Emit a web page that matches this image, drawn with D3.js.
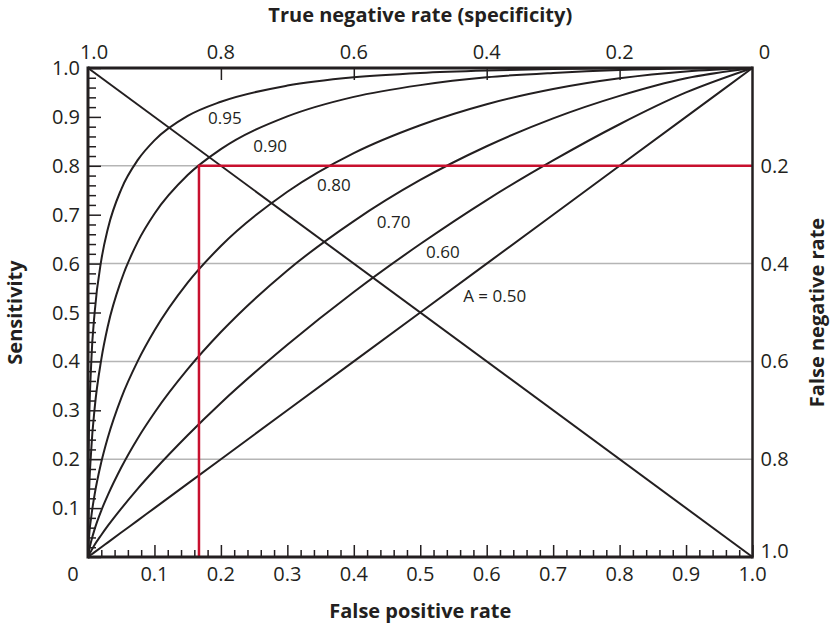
<!DOCTYPE html>
<html>
<head>
<meta charset="utf-8">
<script src="https://cdn.jsdelivr.net/npm/d3@7"></script>
<style>
  body { margin: 0; background: #fff; }
  text { font-family: "Open Sans", "Noto Sans", sans-serif; fill: #231f20; }
</style>
</head>
<body>
<div id="chart"></div>
<script>
// False positive rate sampled along each ROC curve
const fpr = [0, 0.001, 0.005, 0.01, 0.02, 0.03, 0.05, 0.075, 0.1, 0.15, 0.2, 0.3, 0.4, 0.5, 0.6, 0.7, 0.8, 0.9, 1.0];

// Sensitivity at those rates
const sens95 = [0, 0.222, 0.401, 0.500, 0.607, 0.672, 0.752, 0.812, 0.852, 0.902, 0.931, 0.964, 0.981, 0.990, 0.995, 0.998, 0.999, 1.0, 1.0];
const sens90 = [0, 0.101, 0.222, 0.304, 0.404, 0.473, 0.566, 0.645, 0.702, 0.781, 0.834, 0.901, 0.941, 0.965, 0.981, 0.990, 0.996, 0.999, 1.0];
const sens80 = [0, 0.029, 0.083, 0.128, 0.194, 0.245, 0.325, 0.401, 0.463, 0.561, 0.636, 0.747, 0.826, 0.883, 0.926, 0.957, 0.979, 0.993, 1.0];
const sens70 = [0, 0.009, 0.033, 0.057, 0.095, 0.127, 0.183, 0.243, 0.295, 0.384, 0.460, 0.586, 0.687, 0.771, 0.840, 0.897, 0.943, 0.979, 1.0];
const sens60 = [0, 0.003, 0.013, 0.025, 0.045, 0.064, 0.099, 0.140, 0.178, 0.249, 0.315, 0.434, 0.542, 0.640, 0.730, 0.811, 0.885, 0.950, 1.0];
const sens50 = [0, 0.001, 0.005, 0.010, 0.020, 0.030, 0.050, 0.075, 0.100, 0.150, 0.200, 0.300, 0.400, 0.500, 0.600, 0.700, 0.800, 0.900, 1.0];

const curveNames = ["0.95", "0.90", "0.80", "0.70", "0.60", "A = 0.50"];
const curveSeries = [sens95, sens90, sens80, sens70, sens60, sens50];

// Operating point marked in red
const cutFpr = 0.167;
const cutSens = 0.8;

// Tick values
const bottomTicks = [0.1, 0.2, 0.3, 0.4, 0.5, 0.6, 0.7, 0.8, 0.9, 1.0];
const leftTicks = [0.1, 0.2, 0.3, 0.4, 0.5, 0.6, 0.7, 0.8, 0.9, 1.0];
const topTicks = [0.8, 0.6, 0.4, 0.2];
const topLabels = ["1.0", "0.8", "0.6", "0.4", "0.2", "0"];
const rightLabels = ["0.2", "0.4", "0.6", "0.8", "1.0"];
const gridSens = [0.2, 0.4, 0.6, 0.8];

document.addEventListener("DOMContentLoaded", () => {
    const svgWidth = 831;
    const svgHeight = 623;

    const svg = d3.select("#chart")
        .append("svg")
        .attr("width", svgWidth)
        .attr("height", svgHeight);

    const margins = { top: 68, right: 78.5, bottom: 66, left: 88 };
    const chartWidth = svgWidth - margins.left - margins.right;
    const chartHeight = svgHeight - margins.top - margins.bottom;

    const x = d3.scaleLinear().domain([0, 1]).range([0, chartWidth]);
    const y = d3.scaleLinear().domain([0, 1]).range([chartHeight, 0]);
    // specificity = 1 - FPR, false negative rate = 1 - sensitivity
    const xTop = d3.scaleLinear().domain([1, 0]).range([0, chartWidth]);
    const yRight = d3.scaleLinear().domain([0, 1]).range([0, chartHeight]);

    const g = svg.append("g")
        .attr("transform", `translate(${margins.left},${margins.top})`);

    g.append("clipPath").attr("id", "plot-clip")
        .append("rect").attr("width", chartWidth).attr("height", chartHeight);

    // Gray gridlines
    g.selectAll(".grid")
        .data(gridSens)
        .enter()
        .append("line")
        .attr("x1", 0).attr("x2", chartWidth)
        .attr("y1", d => y(d)).attr("y2", d => y(d))
        .attr("stroke", "#b5b5b5")
        .attr("stroke-width", 1.5);

    // ROC curves
    const line = d3.line()
        .x(d => x(d[0]))
        .y(d => y(d[1]))
        .curve(d3.curveMonotoneX);

    g.append("g").attr("clip-path", "url(#plot-clip)")
        .selectAll(".roc")
        .data(curveSeries)
        .enter()
        .append("path")
        .attr("class", "roc")
        .attr("d", s => line(fpr.map((f, i) => [f, s[i]])))
        .attr("fill", "none")
        .attr("stroke", "#231f20")
        .attr("stroke-width", 2);

    // Anti-diagonal
    g.append("line")
        .attr("x1", x(0)).attr("y1", y(1))
        .attr("x2", x(1)).attr("y2", y(0))
        .attr("stroke", "#231f20")
        .attr("stroke-width", 2);

    // Red operating point lines
    g.append("path")
        .attr("d", `M${x(cutFpr)},${y(0)}V${y(cutSens)}H${x(1)}`)
        .attr("fill", "none")
        .attr("stroke", "#c8102e")
        .attr("stroke-width", 2.5);

    // Curve labels
    const labelPos = [[0.206, 0.898], [0.274, 0.841], [0.370, 0.760], [0.460, 0.685], [0.534, 0.624], [0.612, 0.534]];
    g.selectAll(".clabel")
        .data(curveNames)
        .enter()
        .append("text")
        .attr("x", (d, i) => x(labelPos[i][0]))
        .attr("y", (d, i) => y(labelPos[i][1]))
        .attr("dy", "0.35em")
        .attr("text-anchor", "middle")
        .style("font-size", "17px")
        .text(d => d);

    // Bottom axis: major ticks every 0.1, minor every 0.02
    const bottomAxis = g.append("g")
        .attr("transform", `translate(0,${chartHeight})`);
    bottomAxis.call(d3.axisBottom(x).tickValues(d3.range(0, 51).map(i => i / 50))
        .tickSize(-7).tickFormat(""));
    bottomAxis.call(g2 => g2.selectAll(".tick line").filter((d, i) => i % 5 === 0)
        .attr("y2", -12));
    bottomAxis.selectAll(".tick line").attr("stroke", "#231f20").attr("stroke-width", 1.5);
    bottomAxis.select(".domain").remove();
    bottomAxis.selectAll(".tickLabel")
        .data(bottomTicks)
        .enter()
        .append("text")
        .attr("x", d => x(d))
        .attr("y", 17)
        .attr("dy", "0.35em")
        .attr("text-anchor", "middle")
        .style("font-size", "20px")
        .text(d => d.toFixed(1));
    bottomAxis.append("text")
        .attr("x", x(0) - 15)
        .attr("y", 17)
        .attr("dy", "0.35em")
        .attr("text-anchor", "middle")
        .style("font-size", "20px")
        .text("0");

    // Left axis
    const leftAxis = g.append("g");
    leftAxis.call(d3.axisLeft(y).tickValues(d3.range(0, 51).map(i => i / 50))
        .tickSize(-8).tickFormat(""));
    leftAxis.call(g2 => g2.selectAll(".tick line").filter((d, i) => i % 5 === 0)
        .attr("x2", 13));
    leftAxis.selectAll(".tick line").attr("stroke", "#231f20").attr("stroke-width", 1.5);
    leftAxis.select(".domain").remove();
    leftAxis.selectAll(".tickLabel")
        .data(leftTicks)
        .enter()
        .append("text")
        .attr("x", -8)
        .attr("y", d => y(d))
        .attr("dy", "0.35em")
        .attr("text-anchor", "end")
        .style("font-size", "20px")
        .text(d => d.toFixed(1));

    // Top axis (specificity)
    const topAxis = g.append("g");
    topAxis.call(d3.axisTop(xTop).tickValues(topTicks).tickSize(-12).tickFormat(""));
    topAxis.selectAll(".tick line").attr("stroke", "#231f20").attr("stroke-width", 1.5);
    topAxis.select(".domain").remove();
    const topVals = [1, 0.8, 0.6, 0.4, 0.2, 0];
    topAxis.selectAll(".tickLabel")
        .data(topLabels)
        .enter()
        .append("text")
        .attr("x", (d, i) => xTop(topVals[i]) + (i === 0 ? 6 : i === topVals.length - 1 ? 12 : 0))
        .attr("y", -16)
        .attr("dy", "0.35em")
        .attr("text-anchor", "middle")
        .style("font-size", "20px")
        .text(d => d);

    // Right axis (false negative rate), labels only
    const rightVals = [0.2, 0.4, 0.6, 0.8, 1.0];
    g.selectAll(".rightLabel")
        .data(rightLabels)
        .enter()
        .append("text")
        .attr("x", chartWidth + 8)
        .attr("y", (d, i) => yRight(rightVals[i]) - (i === rightVals.length - 1 ? 6 : 0))
        .attr("dy", "0.35em")
        .attr("text-anchor", "start")
        .style("font-size", "20px")
        .text(d => d);

    // Frame
    g.append("line").attr("x1", 0).attr("x2", chartWidth).attr("y1", 0).attr("y2", 0)
        .attr("stroke", "#231f20").attr("stroke-width", 3);
    g.append("line").attr("x1", 0).attr("x2", chartWidth).attr("y1", chartHeight).attr("y2", chartHeight)
        .attr("stroke", "#231f20").attr("stroke-width", 3);
    g.append("line").attr("x1", 0).attr("x2", 0).attr("y1", -1.5).attr("y2", chartHeight + 1.5)
        .attr("stroke", "#231f20").attr("stroke-width", 3);
    g.append("line").attr("x1", chartWidth).attr("x2", chartWidth).attr("y1", -1.5).attr("y2", chartHeight + 1.5)
        .attr("stroke", "#231f20").attr("stroke-width", 2.5);

    // Axis titles
    svg.append("text")
        .attr("x", margins.left + chartWidth / 2)
        .attr("y", 15)
        .attr("dy", "0.35em")
        .attr("text-anchor", "middle")
        .style("font-size", "20px")
        .style("font-weight", "bold")
        .text("True negative rate (specificity)");

    svg.append("text")
        .attr("x", margins.left + chartWidth / 2)
        .attr("y", 611)
        .attr("dy", "0.35em")
        .attr("text-anchor", "middle")
        .style("font-size", "20px")
        .style("font-weight", "bold")
        .text("False positive rate");

    svg.append("text")
        .attr("transform", `translate(15,${margins.top + chartHeight / 2}) rotate(-90)`)
        .attr("dy", "0.35em")
        .attr("text-anchor", "middle")
        .style("font-size", "20px")
        .style("font-weight", "bold")
        .text("Sensitivity");

    svg.append("text")
        .attr("transform", `translate(817,${margins.top + chartHeight / 2}) rotate(-90)`)
        .attr("dy", "0.35em")
        .attr("text-anchor", "middle")
        .style("font-size", "20px")
        .style("font-weight", "bold")
        .text("False negative rate");
});
</script>
</body>
</html>
